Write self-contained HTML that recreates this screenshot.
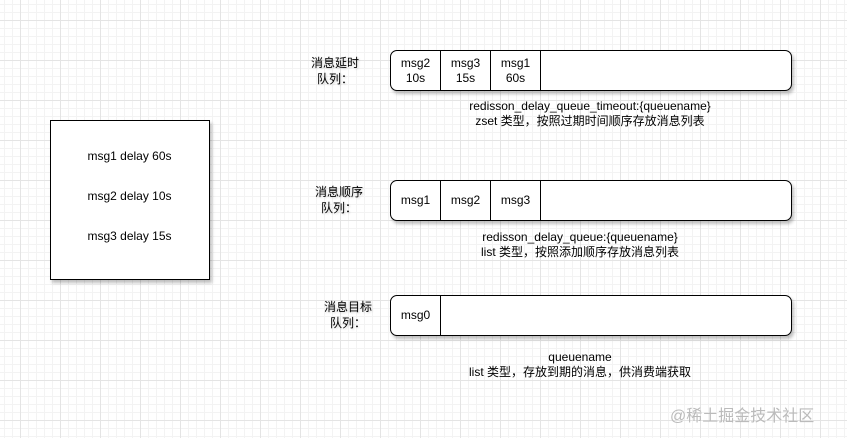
<html><head><style>
body{margin:0;width:847px;height:438px;position:relative;overflow:hidden;font-family:"Liberation Sans","Noto Sans CJK SC",sans-serif;font-size:12px;color:#000;
background-color:#fff;
background-image:linear-gradient(#e4e4e4 1px,transparent 1px),linear-gradient(90deg,#e4e4e4 1px,transparent 1px),linear-gradient(#f3f3f3 1px,transparent 1px),linear-gradient(90deg,#f3f3f3 1px,transparent 1px);
background-size:40px 40px,40px 40px,8px 8px,8px 8px;background-position:0 20px,20px 0,0 4px,4px 0;}
.a{position:absolute}
.q{position:absolute;border:1.5px solid #000;border-radius:7px;background:#fff;box-shadow:2px 3px 3px rgba(0,0,0,.25);box-sizing:border-box;display:flex;overflow:hidden}
.c{width:50px;border-right:1px solid #000;display:flex;align-items:center;justify-content:center;text-align:center;line-height:15px;box-sizing:border-box}
.l{position:absolute;text-align:center;line-height:16px;text-shadow:1px 1px 2px rgba(0,0,0,.2)}
</style></head><body>
<div class="a" style="left:50px;top:120px;width:160px;height:160px;border:1.5px solid #000;box-sizing:border-box;background:#fff;box-shadow:2px 3px 3px rgba(0,0,0,.25)">
<div class="a" style="left:0;width:157px;top:28px;text-align:center">msg1 delay 60s</div>
<div class="a" style="left:0;width:157px;top:68px;text-align:center">msg2 delay 10s</div>
<div class="a" style="left:0;width:157px;top:108px;text-align:center">msg3 delay 15s</div>
</div>
<div class="l" style="left:300px;top:55px;width:70px">消息延时<br>队列：</div>
<div class="q" style="left:390px;top:50px;width:402px;height:41px"><div class="c">msg2<br>10s</div><div class="c">msg3<br>15s</div><div class="c">msg1<br>60s</div></div>
<div class="a" style="left:390px;top:99px;width:400px;text-align:center;line-height:15px">redisson_delay_queue_timeout:{queuename}<br>zset 类型，按照过期时间顺序存放消息列表</div>
<div class="l" style="left:304px;top:184px;width:70px">消息顺序<br>队列：</div>
<div class="q" style="left:390px;top:180px;width:402px;height:41px"><div class="c">msg1</div><div class="c">msg2</div><div class="c">msg3</div></div>
<div class="a" style="left:380px;top:230px;width:400px;text-align:center;line-height:15px">redisson_delay_queue:{queuename}<br>list 类型，按照添加顺序存放消息列表</div>
<div class="l" style="left:313px;top:299px;width:70px">消息目标<br>队列：</div>
<div class="q" style="left:390px;top:295px;width:402px;height:41px"><div class="c">msg0</div></div>
<div class="a" style="left:380px;top:350px;width:400px;text-align:center;line-height:15px">queuename<br>list 类型，存放到期的消息，供消费端获取</div>
<div class="a" style="left:670px;top:402px;font-size:16px;color:#bbb">@稀土掘金技术社区</div>
</body></html>
